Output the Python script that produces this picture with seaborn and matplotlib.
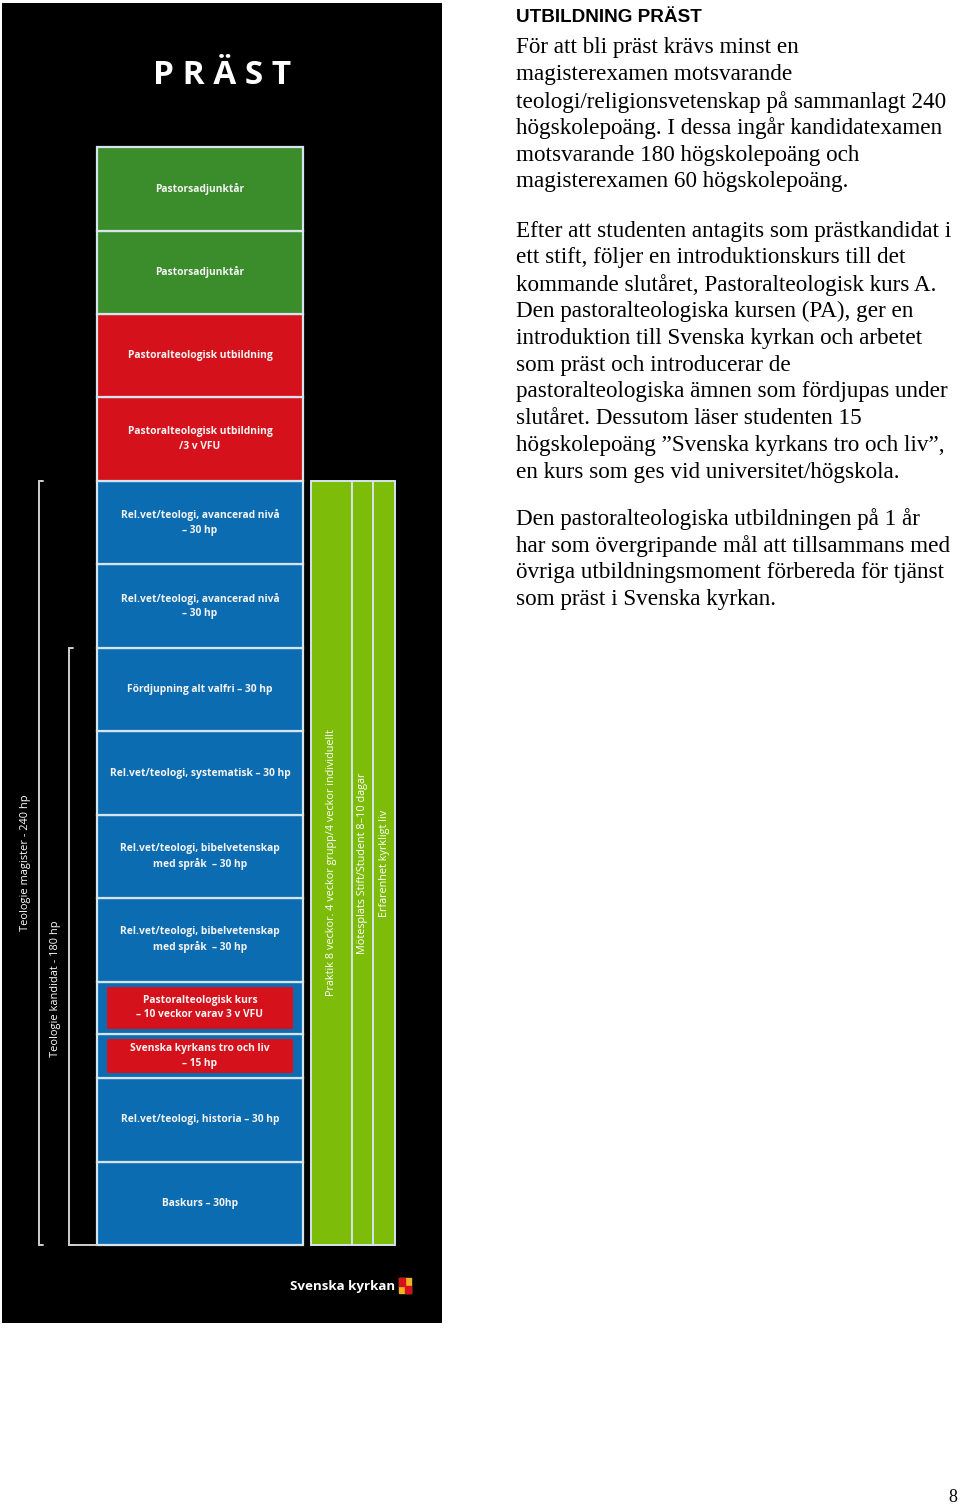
import numpy as np
import matplotlib.pyplot as plt
from matplotlib.patches import Rectangle
import seaborn as sns

sns.set_theme(style="white")
plt.rcParams['font.family'] = ['Open Sans', 'DejaVu Sans']

# ---- data: study blocks, bottom to top (height in hp-ish units) ----
block_labels = [
    "Baskurs – 30hp",
    "Rel.vet/teologi, historia – 30 hp",
    "Svenska kyrkans tro och liv\n– 15 hp",
    "Pastoralteologisk kurs\n– 10 veckor varav 3 v VFU",
    "Rel.vet/teologi, bibelvetenskap\nmed språk  – 30 hp",
    "Rel.vet/teologi, bibelvetenskap\nmed språk  – 30 hp",
    "Rel.vet/teologi, systematisk – 30 hp",
    "Fördjupning alt valfri – 30 hp",
    "Rel.vet/teologi, avancerad nivå\n– 30 hp",
    "Rel.vet/teologi, avancerad nivå\n– 30 hp",
    "Pastoralteologisk utbildning\n/3 v VFU",
    "Pastoralteologisk utbildning",
    "Pastorsadjunktår",
    "Pastorsadjunktår",
]
block_size = [30, 30, 16, 18.7, 30, 30, 30, 30, 30, 30, 30, 30, 30, 30]
block_kind = ["blue", "blue", "inset", "inset", "blue", "blue", "blue", "blue",
              "blue", "blue", "red", "red", "green", "green"]

# parallel practice columns (span the magister part)
practice_labels = ["Praktik 8 veckor. 4 veckor grupp/4 veckor individuellt",
                   "Mötesplats Stift/Student 8–10 dagar",
                   "Erfarenhet kyrkligt liv"]
practice_width = [41, 21, 22]

# degree brackets: label, number of blocks from the bottom
degree_labels = ["Teologie magister - 240 hp", "Teologie kandidat - 180 hp"]
degree_blocks = [10, 8]

palette = {"blue": "#0b6cb2", "red": "#d5121b", "green": "#3b8d2c",
           "inset": "#0b6cb2", "light": "#7dbd0a"}
edge = "#d6e4ee"

heading = "UTBILDNING PRÄST"
paragraphs = [
    ["För att bli präst krävs minst en",
     "magisterexamen motsvarande",
     "teologi/religionsvetenskap på sammanlagt 240",
     "högskolepoäng. I dessa ingår kandidatexamen",
     "motsvarande 180 högskolepoäng och",
     "magisterexamen 60 högskolepoäng."],
    ["Efter att studenten antagits som prästkandidat i",
     "ett stift, följer en introduktionskurs till det",
     "kommande slutåret, Pastoralteologisk kurs A.",
     "Den pastoralteologiska kursen (PA), ger en",
     "introduktion till Svenska kyrkan och arbetet",
     "som präst och introducerar de",
     "pastoralteologiska ämnen som fördjupas under",
     "slutåret. Dessutom läser studenten 15",
     "högskolepoäng ”Svenska kyrkans tro och liv”,",
     "en kurs som ges vid universitet/högskola."],
    ["Den pastoralteologiska utbildningen på 1 år",
     "har som övergripande mål att tillsammans med",
     "övriga utbildningsmoment förbereda för tjänst",
     "som präst i Svenska kyrkan."],
]

W, H = 960, 1505
fig = plt.figure(figsize=(W / 100, H / 100), dpi=100)
fig.patch.set_facecolor("white")

# black panel
ax = fig.add_axes([2 / W, (H - 1323) / H, 440 / W, 1320 / H])
ax.set_facecolor("black")
ax.set_xlim(0, 440)
ax.set_ylim(-28.0, 446.5)
ax.axis("off")
ax.add_patch(Rectangle((0, 0), 1, 1, transform=ax.transAxes, color="black", zorder=0))

bottoms = np.concatenate([[0], np.cumsum(block_size)[:-1]])
tops = np.cumsum(block_size)
stack_x, stack_w = 198, 206

for lab, size, kind, b in zip(block_labels, block_size, block_kind, bottoms):
    ax.bar(stack_x, size, bottom=b, width=stack_w, color=palette[kind],
           edgecolor=edge, linewidth=1.6, zorder=2)
    if kind == "inset":
        pad = 1.8
        ax.bar(stack_x, size - 2 * pad, bottom=b + pad, width=stack_w - 20,
               color=palette["red"], linewidth=0, zorder=3)
    ax.text(stack_x, b + size / 2, lab, ha="center", va="center", color="#f4f4f4",
            fontsize=7.4, fontweight="bold", linespacing=1.45, zorder=4)

# practice columns
mag_top = tops[degree_blocks[0] - 1]
px = 309
for lab, w in zip(practice_labels, practice_width):
    ax.bar(px + w / 2, mag_top, width=w, color=palette["light"],
           edgecolor=edge, linewidth=1.4, zorder=2)
    ax.text(px + w / 2, mag_top / 2, lab, rotation=90, ha="center", va="center",
            color="white", fontsize=7.8, zorder=4)
    px += w

# degree brackets
for i, (lab, nb) in enumerate(zip(degree_labels, degree_blocks)):
    top = tops[nb - 1]
    bx = 37 + i * 30
    ax.plot([bx + 4, bx, bx, bx + 4], [top, top, 0, 0], color="#cfcfcf", lw=1.4,
            solid_joinstyle="miter", zorder=3)
    ly = top / 2 if i == 0 else top * 0.43
    ax.text(bx - 13, ly, lab, rotation=90, ha="center", va="center",
            color="white", fontsize=7.9)
ax.plot([67, 95], [0, 0], color="#cfcfcf", lw=1.4, zorder=3)

# title and logo
ax.text(220, 420.5, "P R Ä S T", ha="center", va="center", color="white",
        fontsize=24, fontweight="bold")
ax.text(393, -14.7, "Svenska kyrkan", ha="right", va="center", color="white",
        fontsize=9.6, fontweight="bold")
ax.add_patch(Rectangle((397, -17.3), 12, 5.4, color="#f0b323", zorder=3))
ax.add_patch(Rectangle((403, -17.3), 6, 2.7, color="#d5121b", zorder=4))
ax.add_patch(Rectangle((397, -14.6), 6, 2.7, color="#d5121b", zorder=4))

# right-hand text
def fx(x):
    return x / W

def fy(y):
    return 1 - y / H

fig.text(fx(516), fy(17), heading, ha="left", va="center", fontsize=13.6,
         fontweight="bold", family=["Liberation Sans", "DejaVu Sans"], color="black")
starts = [48, 231, 519]
for start, para in zip(starts, paragraphs):
    for i, line in enumerate(para):
        fig.text(fx(516), fy(start + i * 26.8), line, ha="left", va="center",
                 fontsize=16.7, family=["Liberation Serif", "DejaVu Serif"], color="black")

fig.text(fx(957), fy(1497), "8", ha="right", va="center", fontsize=13,
         family=["Liberation Serif", "DejaVu Serif"], color="black")

fig.savefig("out.png", dpi=100, facecolor="white")
